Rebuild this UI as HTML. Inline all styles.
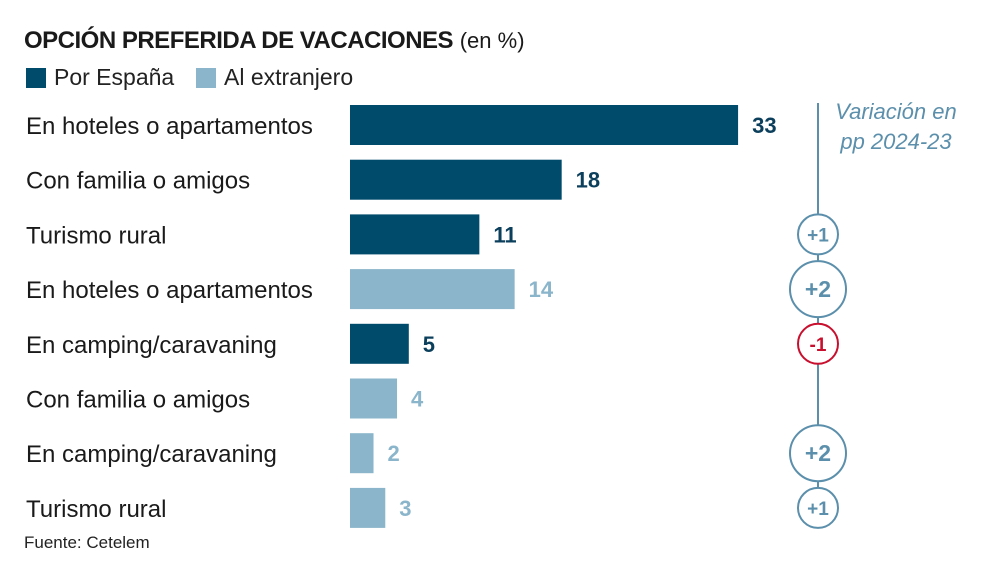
<!DOCTYPE html>
<html><head><meta charset="utf-8"><style>
body{margin:0;width:1000px;height:567px;background:#fff;font-family:"Liberation Sans",sans-serif;position:relative;overflow:hidden}
.t{position:absolute;white-space:nowrap}
</style></head><body>
<div class="t" style="left:24px;top:27px;font-size:24px;color:#1a1a1a"><b style="letter-spacing:-0.5px">OPCIÓN PREFERIDA DE VACACIONES</b> <span style="font-size:22px">(en %)</span></div>
<div class="t" style="left:26px;top:64px;font-size:23px;color:#222"><span style="display:inline-block;width:20px;height:20px;background:#004a6b;vertical-align:-3px;margin-right:8px"></span>Por España</div>
<div class="t" style="left:196px;top:64px;font-size:23px;color:#222"><span style="display:inline-block;width:20px;height:20px;background:#8ab5cb;vertical-align:-3px;margin-right:8px"></span>Al extranjero</div>
<div class="t" style="left:24px;top:533px;font-size:17px;color:#222">Fuente: Cetelem</div>
<svg id="c" width="1000" height="567" style="position:absolute;left:0;top:0"></svg>
<script>
const categories=["En hoteles o apartamentos","Con familia o amigos","Turismo rural","En hoteles o apartamentos","En camping/caravaning","Con familia o amigos","En camping/caravaning","Turismo rural"];
const values=[33,18,11,14,5,4,2,3];
const groups=["es","es","es","ex","es","ex","ex","ex"];
const variation=["","","+1","+2","-1","","+2","+1"];
const NS="http://www.w3.org/2000/svg";
const svg=document.getElementById('c');
const x0=350,scale=11.76,y0=125,step=54.7,bh=40;
const xs=v=>x0+v*scale, ys=i=>y0+i*step;
function mk(t,a){const e=document.createElementNS(NS,t);for(const k in a)e.setAttribute(k,a[k]);svg.appendChild(e);return e;}
const line=mk('line',{x1:818,y1:103,x2:818,y2:527,stroke:'#5b8fab','stroke-width':2});


const vt=mk('text',{x:896,y:119,'font-size':22,'font-style':'italic',fill:'#5b8fab','text-anchor':'middle','font-family':'Liberation Sans'});vt.textContent='Variación en';


const vt2=mk('text',{x:896,y:149,'font-size':22,'font-style':'italic',fill:'#5b8fab','text-anchor':'middle','font-family':'Liberation Sans'});vt2.textContent='pp 2024-23';


categories.forEach((c,i)=>{
 const y=ys(i),col=groups[i]=="es"?"#004a6b":"#8ab5cb";
 const l=mk('text',{x:26,y:y+9,'font-size':24,fill:'#1a1a1a','font-family':'Liberation Sans'});l.textContent=c;
 
 
 const r=mk('rect',{x:x0,y:y-bh/2,width:xs(values[i])-x0,height:bh,fill:col});
 
 
 const v=mk('text',{x:xs(values[i])+14,y:y+8,'font-size':22,'font-weight':'bold',fill:groups[i]=="es"?"#0b3f5c":"#8ab5cb",'font-family':'Liberation Sans'});v.textContent=values[i];
 
 
 if(variation[i]){
  const neg=variation[i][0]=='-',big=Math.abs(parseInt(variation[i]))>=2;
  const ccol=neg?'#c8102e':'#5b8fab';
  const ci=mk('circle',{cx:818,cy:y,r:big?28:20,fill:'#fff',stroke:ccol,'stroke-width':2});
  
  
  const tt=mk('text',{x:818,y:y+(big?8:7),'font-size':big?23:19,'font-weight':'bold',fill:ccol,'text-anchor':'middle','font-family':'Liberation Sans'});tt.textContent=variation[i];
  
  
 }
});
</script>
</body></html>
